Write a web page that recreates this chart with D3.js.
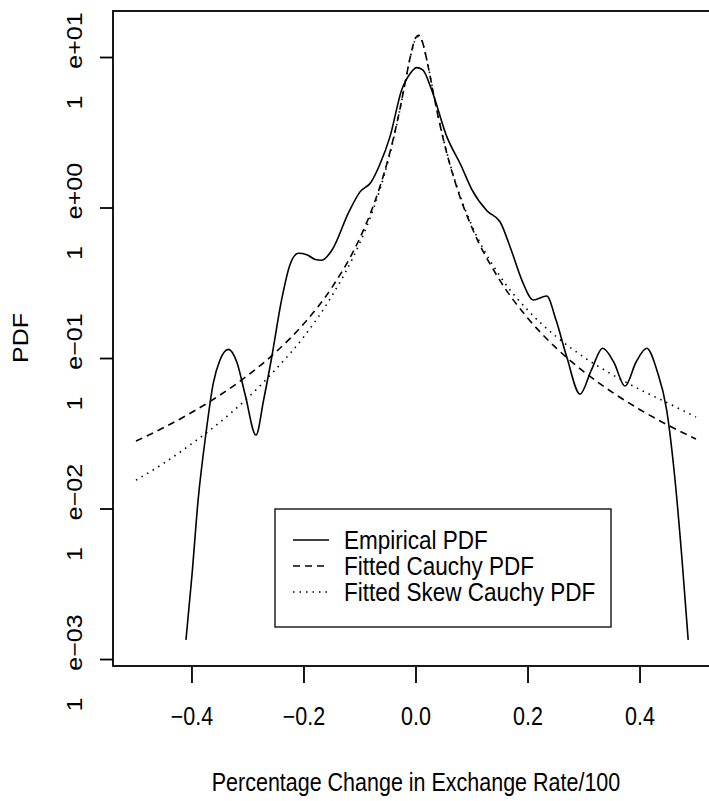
<!DOCTYPE html>
<html>
<head>
<meta charset="utf-8">
<script src="https://cdn.jsdelivr.net/npm/d3@7"></script>
<style>
  body { margin: 0; background: #fff; }
  text { font-family: "Liberation Sans", Arial, sans-serif; fill: #000; }
</style>
</head>
<body>
<div id="chart"></div>
<script>
// values
const empX = [-0.4107, -0.4, -0.389, -0.375, -0.362, -0.35, -0.335, -0.32, -0.305, -0.2857, -0.272, -0.258, -0.24, -0.225, -0.21, -0.195, -0.18, -0.168, -0.15, -0.12, -0.1, -0.08, -0.065, -0.0464, -0.0256, -0.01, 0.001, 0.012, 0.028, 0.055, 0.08, 0.1, 0.127, 0.15, 0.17, 0.189, 0.2095, 0.2333, 0.25, 0.269, 0.2929, 0.313, 0.3333, 0.353, 0.3732, 0.393, 0.412, 0.43, 0.4476, 0.4625, 0.475, 0.486];
const empY = [0.00135, 0.00363, 0.0115, 0.0319, 0.0684, 0.0977, 0.115, 0.0948, 0.0574, 0.031, 0.0532, 0.1, 0.245, 0.42, 0.5, 0.49, 0.455, 0.45, 0.526, 0.94, 1.28, 1.49, 1.93, 2.98, 6.09, 7.87, 8.56, 8.28, 6.09, 2.98, 1.93, 1.32, 0.955, 0.81, 0.526, 0.332, 0.245, 0.26, 0.18, 0.103, 0.058, 0.0837, 0.117, 0.0948, 0.0656, 0.0948, 0.117, 0.0837, 0.0454, 0.0156, 0.0046, 0.00135];

const fitX = [-0.5, -0.45, -0.4, -0.35, -0.3, -0.25, -0.2, -0.15, -0.1, -0.075, -0.05, -0.04, -0.03, -0.02, -0.01, 0, 0.005, 0.01, 0.02, 0.03, 0.04, 0.05, 0.075, 0.1, 0.15, 0.2, 0.25, 0.3, 0.35, 0.4, 0.45, 0.5];
const cauchyY = [0.02827, 0.03481, 0.04392, 0.05716, 0.0774, 0.1106, 0.1707, 0.2969, 0.6348, 1.065, 2.099, 2.939, 4.315, 6.617, 10.17, 13.65, 14.05, 13.15, 9.379, 6.06, 3.981, 2.738, 1.295, 0.7394, 0.3295, 0.1847, 0.1178, 0.08162, 0.05981, 0.04571, 0.03607, 0.02917];
const skewY = [0.01555, 0.02019, 0.02723, 0.03773, 0.05495, 0.08516, 0.14, 0.2613, 0.5904, 1.012, 2.036, 2.88, 4.27, 6.6, 10.1, 13.4, 13.8, 13.0, 9.4, 6.1, 4.02, 2.77, 1.321, 0.7616, 0.3526, 0.2087, 0.1402, 0.102, 0.07835, 0.06217, 0.0505, 0.04084];

const xTicks = [-0.4, -0.2, 0.0, 0.2, 0.4];
const yTicks = [1e-3, 1e-2, 1e-1, 1e0, 1e1];
const yTickExp = ['e\u221203', 'e\u221202', 'e\u221201', 'e+00', 'e+01'];
const legendLabels = ['Empirical PDF', 'Fitted Cauchy PDF', 'Fitted Skew Cauchy PDF'];
const legendDash = [null, '7,5', '1.5,5'];

const W = 709, H = 801;
const box = { left: 113, right: 719, top: 11, bottom: 666 };
const fs = 25, sx = 0.86;   // text looks squeezed horizontally

const svg = d3.select('#chart').append('svg')
    .attr('width', W)
    .attr('height', H);

const x = d3.scaleLinear().domain([-0.541, 0.541]).range([box.left, box.right]);
const y = d3.scaleLog().domain([Math.pow(10, -3.043), Math.pow(10, 1.309)]).range([box.bottom, box.top]);

function label(px, py, str, rot, anchor, sxx) {
    svg.append('text')
        .attr('transform', 'translate(' + px + ',' + py + ') scale(' + (sxx || sx) + ',1)' + (rot ? ' rotate(-90)' : ''))
        .attr('text-anchor', anchor || 'middle')
        .style('font-size', fs + 'px')
        .text(str);
}

// plot box
svg.append('rect')
    .attr('x', box.left).attr('y', box.top)
    .attr('width', box.right - box.left).attr('height', box.bottom - box.top)
    .attr('fill', 'none').attr('stroke', '#000').attr('stroke-width', 1.8);

// x axis ticks + labels
svg.selectAll('.xtick')
    .data(xTicks)
    .enter().append('line')
    .attr('x1', d => x(d)).attr('x2', d => x(d))
    .attr('y1', box.bottom + 1).attr('y2', box.bottom + 17)
    .attr('stroke', '#000').attr('stroke-width', 1.8);
xTicks.forEach(d => label(x(d), 725, d3.format('.1f')(d).replace('-', '\u2212')));

// y axis ticks + labels
svg.selectAll('.ytick')
    .data(yTicks)
    .enter().append('line')
    .attr('x1', box.left - 13).attr('x2', box.left)
    .attr('y1', d => y(d)).attr('y2', d => y(d))
    .attr('stroke', '#000').attr('stroke-width', 1.8);
yTicks.forEach((d, i) => {
    label(82, y(d) - 17, yTickExp[i], true);
    label(82, y(d) + 45, '1', true);
});

// axis titles
label(416, 791, 'Percentage Change in Exchange Rate/100');
label(28, 338, 'PDF', true);

const line = d3.line()
    .x(d => x(d[0]))
    .y(d => y(d[1]))
    .curve(d3.curveMonotoneX);

const series = [
    { pts: d3.zip(empX, empY), dash: legendDash[0] },
    { pts: d3.zip(fitX, cauchyY), dash: legendDash[1] },
    { pts: d3.zip(fitX, skewY), dash: legendDash[2] }
];

svg.selectAll('.curve')
    .data(series)
    .enter().append('path')
    .attr('d', d => line(d.pts))
    .attr('fill', 'none')
    .attr('stroke', '#000')
    .attr('stroke-width', 1.6)
    .attr('stroke-dasharray', d => d.dash);

// legend
const lg = svg.append('g');
lg.append('rect')
    .attr('x', 275).attr('y', 509)
    .attr('width', 336).attr('height', 118)
    .attr('fill', '#fff').attr('stroke', '#000').attr('stroke-width', 1.3);
const rowY = [540, 566, 592];
legendLabels.forEach((t, i) => {
    lg.append('line')
        .attr('x1', 293).attr('x2', 329)
        .attr('y1', rowY[i]).attr('y2', rowY[i])
        .attr('stroke', '#000').attr('stroke-width', 1.6)
        .attr('stroke-dasharray', legendDash[i]);
    label(344, rowY[i] + 9, t, false, 'start', 0.9);
});
</script>
</body>
</html>
